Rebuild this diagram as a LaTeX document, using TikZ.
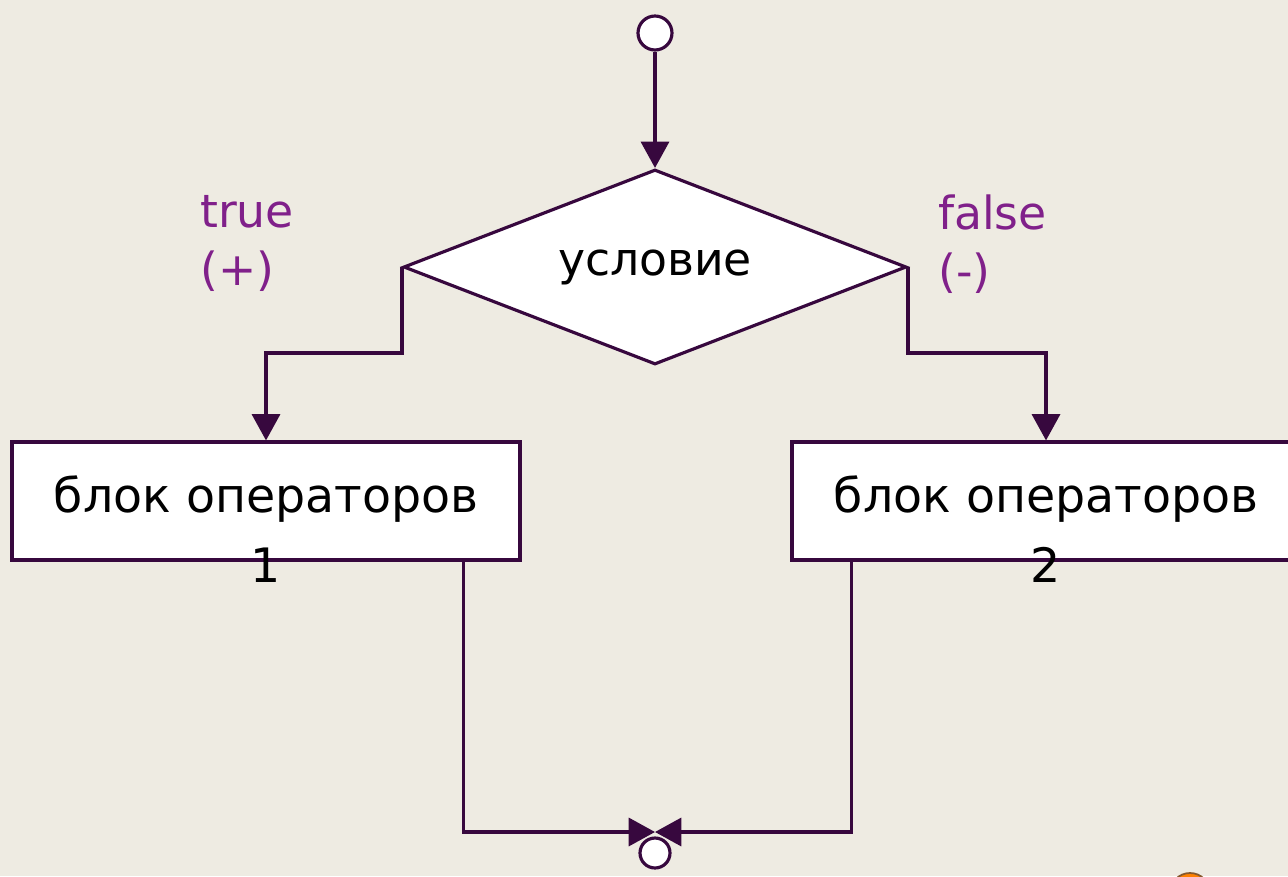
\documentclass[tikz,border=0pt]{standalone}
\usepackage{fontspec}
\setmainfont{DejaVu Sans}
\usetikzlibrary{calc,shapes.geometric,arrows.meta}

\definecolor{bgbeige}{RGB}{238,235,226}
\definecolor{edgeink}{RGB}{55,8,62}
\definecolor{lblink}{RGB}{128,32,138}

\tikzset{
  line/.style={draw=edgeink, line width=1.8pt},
  arr/.style={line, -{Triangle[width=16pt,length=15pt]}},
  term/.style={circle, line, fill=white, inner sep=0pt},
  txt/.style={font=\fontsize{26}{33}\selectfont},
  blocktxt/.style={font=\fontsize{27}{33}\selectfont},
}

\begin{document}
\begin{tikzpicture}[x=0.02cm,y=-0.02cm]
        \useasboundingbox (0,0) rectangle (1288,876);
        \fill[bgbeige] (0,0) rectangle (1288,876);
        % terminals
        \node[term, minimum size=0.68cm] (start) at (655,33) {};
        \node[term, minimum size=0.6cm] (stop) at (655,853) {};
        % decision
        \node[diamond, aspect=2.6, line, fill=white, inner sep=0pt, minimum width=10.06cm,
            minimum height=3.9cm, txt] (cond) at (655,267) {\raisebox{4pt}{условие}};
        % blocks
        \node[rectangle, line, fill=white, minimum width=10.16cm, minimum height=2.36cm,
            blocktxt, label={[blocktxt, anchor=center, yshift=-2pt]south:1}] (blockA) at (266,501)
            {\raisebox{8pt}{блок операторов}};
        \node[rectangle, line, fill=white, minimum width=10.16cm, minimum height=2.36cm,
            blocktxt, label={[blocktxt, anchor=center, yshift=-2pt]south:2}] (blockB) at (1046,501)
            {\raisebox{8pt}{блок операторов}};
        % branch labels
        \node[txt, text=lblink, align=left, anchor=north west] (yes) at (194,189) {true\\(+)};
        \node[txt, text=lblink, align=left, anchor=north west] (no) at (932,189) {false\\(-)};
        % connectors
        \coordinate (join) at (655,832);
        \draw[arr] (start) -- (cond.north);
        \draw[arr] (cond.west) -- ++(0,86) -| (blockA.north);
        \draw[arr] (cond.east) -- ++(0,86) -| (blockB.north);
        \draw[arr] ($(blockA.south east)+(-58,0)$) |- (join);
        \draw[arr] ($(blockB.south west)+(61,0)$) |- (join);
        % corner mark
        \draw[draw=brown!70!black, fill=orange, line width=1pt] (1190,893) circle (20);
    \end{tikzpicture}
\end{document}
